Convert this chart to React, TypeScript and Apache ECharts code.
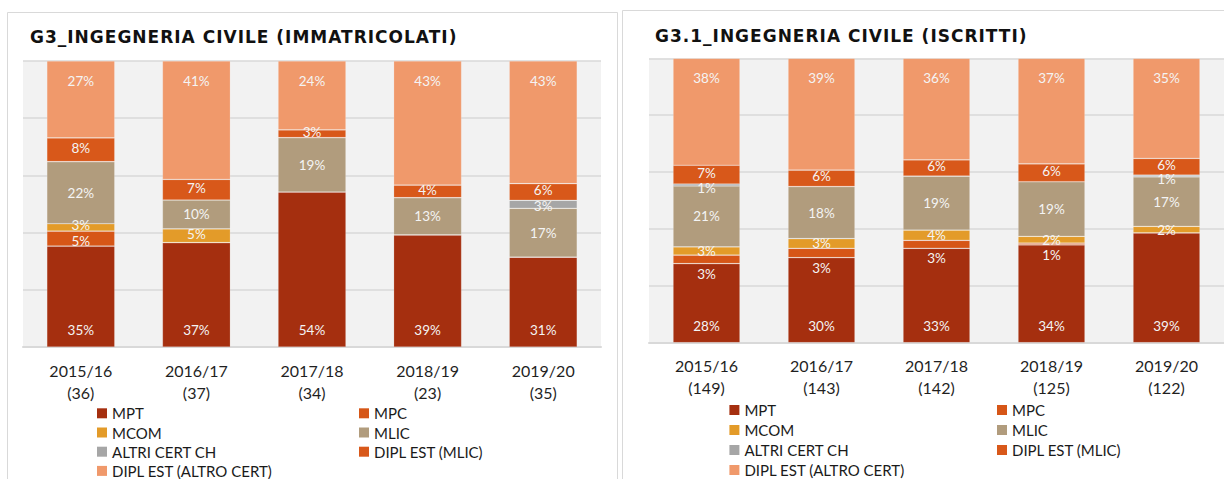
import React, { useEffect, useRef } from 'react';
import * as echarts from 'echarts';

// ---- Data ----
const categories = ['2015/16', '2016/17', '2017/18', '2018/19', '2019/20'];
const totalsImmatricolati = [36, 37, 34, 23, 35];
const totalsIscritti = [149, 143, 142, 125, 122];

const seriesNames = ['MPT', 'MPC', 'MCOM', 'MLIC', 'ALTRI CERT CH', 'DIPL EST (MLIC)', 'DIPL EST (ALTRO CERT)'];
const seriesColors = ['#A52F0F', '#D65617', '#E39B29', '#B19C7D', '#A6A6A6', '#D8581A', '#F0996B'];

// G3 – immatricolati (% shares)
const immMPT = [35.3, 36.5, 54.2, 39.2, 31.4];
const immMPC = [5.2, 0, 0, 0, 0];
const immMCOM = [2.6, 4.8, 0, 0, 0];
const immMLIC = [21.7, 10.1, 19.0, 13.0, 17.1];
const immALTRI = [0, 0, 0, 0, 2.8];
const immDiplMLIC = [8.3, 7.2, 2.7, 4.4, 5.8];
const immDiplAltro = [26.9, 41.4, 24.1, 43.4, 42.9];

// G3.1 – iscritti (% shares)
const iscMPT = [27.8, 29.9, 33.2, 34.4, 38.6];
const iscMPC = [3.0, 3.3, 2.8, 0.6, 0];
const iscMCOM = [2.9, 3.4, 3.6, 2.4, 2.3];
const iscMLIC = [21.4, 18.3, 19.0, 19.2, 17.4];
const iscALTRI = [0.7, 0, 0, 0, 0.6];
const iscDiplMLIC = [6.6, 5.8, 5.7, 6.3, 5.9];
const iscDiplAltro = [37.6, 39.3, 35.7, 37.1, 35.2];

const yTicks = [0, 20, 40, 60, 80, 100];

const LABEL_FONT = 'Lato';

function buildSeries(values: number[][], idx: number, barWidth: number, right: boolean) {
  return seriesNames.map((name, i) => {
    let position: any = 'inside';
    let distance = 5;
    let offset = [0, 0];
    if (i === 0) { position = 'insideBottom'; distance = 10; }
    if (i === 6) { position = 'insideTop'; distance = 13; }
    if (right) {
      if (i === 1) { position = 'bottom'; distance = 3; }
      if (i === 4) { offset = [0, 3]; }
      if (i === 5) { offset = [0, -2]; }
    } else {
      if (i === 1) { offset = [0, 2]; }
      if (i === 2) { offset = [0, -2]; }
      if (i === 4) { offset = [0, 1.5]; }
      if (i === 5) { offset = [0, -1.5]; }
    }
    return {
      type: 'bar',
      name,
      stack: 'stack' + idx,
      xAxisIndex: idx,
      yAxisIndex: idx,
      barWidth,
      data: values[i],
      itemStyle: { color: seriesColors[i], borderColor: 'rgba(255,255,255,0.25)', borderWidth: 0.7 },
      label: {
        show: true,
        position,
        distance,
        offset,
        color: '#f4f4f4',
        fontFamily: LABEL_FONT,
        fontSize: 13.5,
        lineHeight: 14,
        formatter: (p: any) => (p.value > 0 ? Math.round(p.value) + '%' : ''),
      },
    };
  });
}

function legendCol(left: number, top: number, data: string[], gap: number) {
  return {
    orient: 'vertical',
    left,
    top,
    padding: 0,
    itemWidth: 10,
    itemHeight: 10,
    itemGap: gap,
    icon: 'rect',
    selectedMode: false,
    itemStyle: { borderWidth: 0 },
    textStyle: { fontFamily: LABEL_FONT, fontSize: 15, color: '#1a1a1a', lineHeight: 16 },
    data,
  };
}

export default function App() {
  const ref = useRef<HTMLDivElement>(null);

  useEffect(() => {
    if (!ref.current) return;
    const chart = echarts.init(ref.current, undefined, { renderer: 'svg' });

    const xAxisBase = (idx: number, totals: number[], margin: number) => ({
      type: 'category',
      gridIndex: idx,
      data: categories,
      axisTick: { show: false },
      axisLine: { lineStyle: { color: '#d9d9d9', width: 2 } },
      axisLabel: {
        margin,
        color: '#1f1f1f',
        fontFamily: LABEL_FONT,
        fontSize: 16,
        lineHeight: 22,
        formatter: (v: string, i: number) => `${v}\n(${totals[i]})`,
      },
    });

    const yAxisBase = (idx: number) => ({
      type: 'value',
      gridIndex: idx,
      min: yTicks[0],
      max: yTicks[yTicks.length - 1],
      interval: yTicks[1] - yTicks[0],
      axisLabel: { show: false },
      axisLine: { show: false },
      axisTick: { show: false },
      splitLine: { lineStyle: { color: '#d9d9d9', width: 1.5 } },
    });

    chart.setOption({
      animation: false,
      backgroundColor: '#ffffff',
      title: [
        {
          text: 'G3_INGEGNERIA CIVILE (IMMATRICOLATI)',
          left: 30,
          top: 28,
          padding: 0,
          textStyle: { fontFamily: 'DejaVu Sans', fontWeight: 'bold', fontSize: 17, color: '#111111', lineHeight: 18 },
        },
        {
          text: 'G3.1_INGEGNERIA CIVILE (ISCRITTI)',
          left: 655,
          top: 27,
          padding: 0,
          textStyle: { fontFamily: 'DejaVu Sans', fontWeight: 'bold', fontSize: 17, color: '#111111', lineHeight: 18 },
        },
      ],
      graphic: [
        { type: 'rect', z: -10, shape: { x: 7.5, y: 12.5, width: 610, height: 500 }, style: { fill: '#ffffff', stroke: '#d9d9d9', lineWidth: 1 } },
        { type: 'rect', z: -10, shape: { x: 622.5, y: 10.5, width: 640, height: 500 }, style: { fill: '#ffffff', stroke: '#d9d9d9', lineWidth: 1 } },
      ],
      grid: [
        { left: 23, top: 61, width: 578, height: 286, show: true, backgroundColor: '#f2f2f2', borderWidth: 0 },
        { left: 649, top: 58.3, width: 575, height: 284.4, show: true, backgroundColor: '#f2f2f2', borderWidth: 0 },
      ],
      xAxis: [xAxisBase(0, totalsImmatricolati, 12), xAxisBase(1, totalsIscritti, 11.3)],
      yAxis: [yAxisBase(0), yAxisBase(1)],
      legend: [
        legendCol(97, 405.3, ['MPT', 'MCOM', 'ALTRI CERT CH', 'DIPL EST (ALTRO CERT)'], 3.2),
        legendCol(359, 405.3, ['MPC', 'MLIC', 'DIPL EST (MLIC)'], 3.2),
        legendCol(729.4, 402, ['MPT', 'MCOM', 'ALTRI CERT CH', 'DIPL EST (ALTRO CERT)'], 4),
        legendCol(997, 402, ['MPC', 'MLIC', 'DIPL EST (MLIC)'], 4),
      ],
      series: [
        ...buildSeries([immMPT, immMPC, immMCOM, immMLIC, immALTRI, immDiplMLIC, immDiplAltro], 0, 68, false),
        ...buildSeries([iscMPT, iscMPC, iscMCOM, iscMLIC, iscALTRI, iscDiplMLIC, iscDiplAltro], 1, 67, true),
      ],
    });

    return () => chart.dispose();
  }, []);

  return (
    <>
      <style>{`#root svg text[style*="DejaVu Sans"]{letter-spacing:1px}`}</style>
      <div ref={ref} style={{ position: 'absolute', left: 0, top: 0, width: 1224, height: 479 }} />
    </>
  );
}
